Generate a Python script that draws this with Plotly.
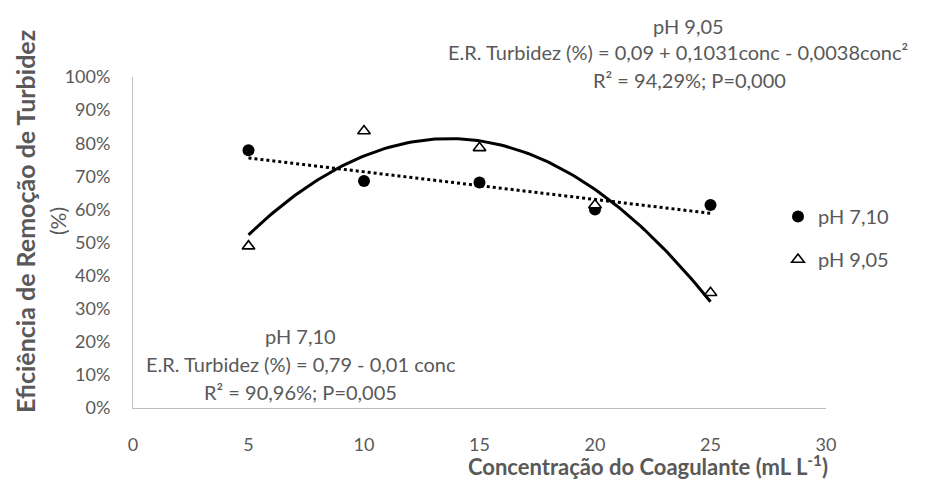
import numpy as np
import plotly.graph_objects as go

# ---- data ----
conc = [5, 10, 15, 20, 25]
ph710 = [0.779, 0.686, 0.681, 0.600, 0.613]
ph905 = [0.489, 0.837, 0.786, 0.613, 0.348]
x_ticks = [0, 5, 10, 15, 20, 25, 30]
y_ticks = [0, 0.1, 0.2, 0.3, 0.4, 0.5, 0.6, 0.7, 0.8, 0.9, 1.0]

# trendlines as in the spreadsheet (fits of the plotted points)
lin = np.polyfit(conc, ph710, 1)
quad = np.polyfit(conc, ph905, 2)
xf = np.linspace(min(conc), max(conc), 120)

W, H = 925, 482
L, R, T, B = 133, 826, 77, 408
GRAY = "#595959"
FONT = "Lato"

def px(xp):
    return (xp - L) / (R - L)

def py(yp):
    return (B - yp) / (B - T)

fig = go.Figure()
fig.add_trace(go.Scatter(x=conc, y=ph710, mode="markers", name="pH 7,10",
                         marker=dict(symbol="circle", size=12, color="black"),
                         legendgroup="a"))
fig.add_trace(go.Scatter(x=conc, y=ph905, mode="markers", name="pH 9,05",
                         marker=dict(symbol="triangle-up", size=11, color="white",
                                     line=dict(color="black", width=1.6)),
                         legendgroup="b"))
fig.add_trace(go.Scatter(x=xf, y=np.polyval(lin, xf), mode="lines", showlegend=False,
                         line=dict(color="black", width=3, dash="dot"), hoverinfo="skip"))
fig.add_trace(go.Scatter(x=xf, y=np.polyval(quad, xf), mode="lines", showlegend=False,
                         line=dict(color="black", width=3), hoverinfo="skip"))

ann = []
def add(text, xc, yc, size=20, bold=False, angle=0):
    ann.append(dict(text=("<b>%s</b>" % text) if bold else text, x=px(xc), y=py(yc),
                    xref="paper", yref="paper", xanchor="center", yanchor="middle",
                    showarrow=False, textangle=angle,
                    font=dict(family=FONT, size=size, color=GRAY)))

add("pH 9,05", 688, 26)
add("E.R. Turbidez (%) = 0,09 + 0,1031conc - 0,0038conc²", 678, 52)
add("R² = 94,29%; P=0,000", 689, 80)
add("pH 7,10", 300, 336)
add("E.R. Turbidez (%) = 0,79 - 0,01 conc", 301, 364)
add("R² = 90,96%; P=0,005", 300, 392)
add("Eficiência de Remoção de Turbidez", 25, 222, size=25, bold=True, angle=-90)
add("(%)", 57, 221, size=21, angle=-90)
add("Concentração do Coagulante (mL L<sup>-1</sup>)", 648, 465, size=22, bold=True)

fig.update_layout(
    width=W, height=H,
    margin=dict(l=L, r=W - R, t=T, b=H - B),
    paper_bgcolor="white", plot_bgcolor="white",
    font=dict(family=FONT, color=GRAY, size=18),
    annotations=ann,
    legend=dict(x=px(778), y=py(197), xanchor="left", yanchor="top",
                font=dict(family=FONT, size=20, color=GRAY),
                tracegroupgap=14, bgcolor="rgba(0,0,0,0)"),
    xaxis=dict(range=[0, 30], tickvals=x_ticks, showgrid=False, zeroline=False,
               showline=True, linecolor="#bfbfbf", linewidth=1,
               ticks="outside", ticklen=20, tickcolor="rgba(0,0,0,0)",
               tickfont=dict(family=FONT, size=18, color=GRAY)),
    yaxis=dict(range=[0, 1], tickvals=y_ticks, tickformat=".0%", showgrid=False,
               zeroline=False, showline=True, linecolor="#bfbfbf", linewidth=1,
               ticks="outside", ticklen=18, tickcolor="rgba(0,0,0,0)",
               tickfont=dict(family=FONT, size=18, color=GRAY)),
)

fig.write_html("out.html")
